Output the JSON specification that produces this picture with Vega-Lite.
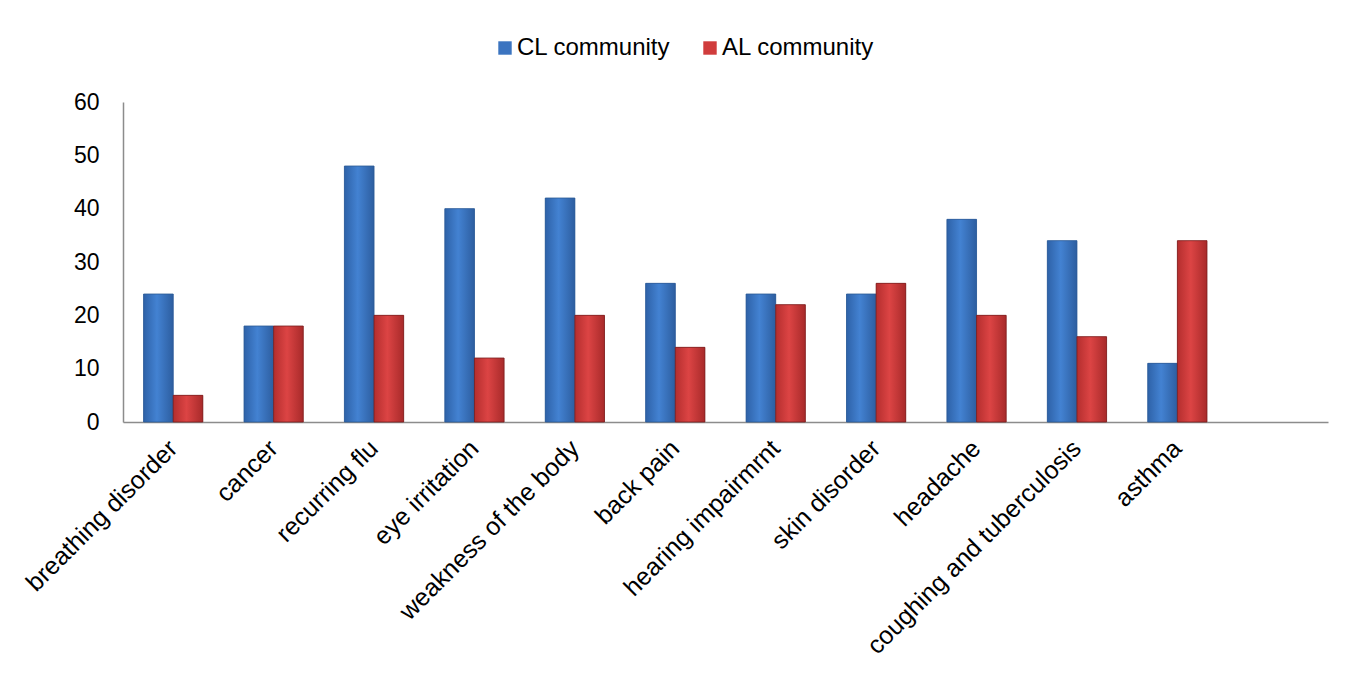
{
  "$schema": "https://vega.github.io/schema/vega-lite/v6.json",
  "width": 1205,
  "height": 320,
  "autosize": {"type": "none"},
  "padding": {"left": 123, "top": 102, "right": 23, "bottom": 251},
  "background": "white",
  "config": {
    "view": {"stroke": null},
    "font": "Liberation Sans",
    "axis": {"labelFont": "Liberation Sans", "labelColor": "#000000", "labelFontSize": 23, "labelLimit": 0, "domainColor": "#8c8c8c", "domainWidth": 1.5, "ticks": false, "grid": false, "title": null}
  },
  "data": {
    "values": [
      {"disease": "breathing disorder", "series": "CL community", "value": 24},
      {"disease": "breathing disorder", "series": "AL community", "value": 5},
      {"disease": "cancer", "series": "CL community", "value": 18},
      {"disease": "cancer", "series": "AL community", "value": 18},
      {"disease": "recurring flu", "series": "CL community", "value": 48},
      {"disease": "recurring flu", "series": "AL community", "value": 20},
      {"disease": "eye irritation", "series": "CL community", "value": 40},
      {"disease": "eye irritation", "series": "AL community", "value": 12},
      {"disease": "weakness of the body", "series": "CL community", "value": 42},
      {"disease": "weakness of the body", "series": "AL community", "value": 20},
      {"disease": "back pain", "series": "CL community", "value": 26},
      {"disease": "back pain", "series": "AL community", "value": 14},
      {"disease": "hearing impairmrnt", "series": "CL community", "value": 24},
      {"disease": "hearing impairmrnt", "series": "AL community", "value": 22},
      {"disease": "skin disorder", "series": "CL community", "value": 24},
      {"disease": "skin disorder", "series": "AL community", "value": 26},
      {"disease": "headache", "series": "CL community", "value": 38},
      {"disease": "headache", "series": "AL community", "value": 20},
      {"disease": "coughing and tuberculosis", "series": "CL community", "value": 34},
      {"disease": "coughing and tuberculosis", "series": "AL community", "value": 16},
      {"disease": "asthma", "series": "CL community", "value": 11},
      {"disease": "asthma", "series": "AL community", "value": 34}
    ]
  },
  "encoding": {
    "x": {
      "field": "disease",
      "type": "nominal",
      "sort": null,
      "scale": {
        "domain": ["breathing disorder", "cancer", "recurring flu", "eye irritation", "weakness of the body", "back pain", "hearing impairmrnt", "skin disorder", "headache", "coughing and tuberculosis", "asthma", " "],
        "paddingInner": 0.41,
        "paddingOuter": 0.205
      },
      "axis": {"labelAngle": -45, "labelAlign": "right", "labelBaseline": "middle", "labelPadding": 22, "labelFontSize": 25}
    },
    "xOffset": {
      "field": "series",
      "type": "nominal",
      "scale": {"domain": ["CL community", "AL community"], "paddingInner": 0, "paddingOuter": 0}
    },
    "y": {
      "field": "value",
      "type": "quantitative",
      "scale": {"domain": [0, 60], "nice": false},
      "axis": {"values": [0, 10, 20, 30, 40, 50, 60], "labelPadding": 24}
    }
  },
  "layer": [
    {
      "mark": {"type": "bar"},
      "encoding": {
        "color": {
          "field": "series",
          "type": "nominal",
          "scale": {"domain": ["CL community", "AL community"], "range": ["#3b74c0", "#d03c3c"]},
          "legend": {
            "orient": "none",
            "legendX": 370,
            "legendY": -66,
            "direction": "horizontal",
            "title": null,
            "symbolType": "square",
            "symbolSize": 180,
            "symbolStrokeWidth": 0,
            "labelFontSize": 24,
            "labelFont": "Liberation Sans",
            "labelColor": "#000000",
            "labelOffset": 0,
            "labelLimit": 0,
            "columnPadding": 27
          }
        }
      }
    },
    {
      "transform": [{"filter": "datum.series === 'CL community'"}],
      "mark": {
        "type": "bar",
        "stroke": "#2c5a96",
        "strokeWidth": 0.8,
        "fill": {"gradient": "linear", "x1": 0, "y1": 0, "x2": 1, "y2": 0, "stops": [
          {"offset": 0, "color": "#2e62a8"},
          {"offset": 0.45, "color": "#4382d2"},
          {"offset": 1, "color": "#2d5ea0"}
        ]}
      }
    },
    {
      "transform": [{"filter": "datum.series === 'AL community'"}],
      "mark": {
        "type": "bar",
        "stroke": "#7a1e1e",
        "strokeWidth": 0.8,
        "fill": {"gradient": "linear", "x1": 0, "y1": 0, "x2": 1, "y2": 0, "stops": [
          {"offset": 0, "color": "#b42e2e"},
          {"offset": 0.45, "color": "#dc4444"},
          {"offset": 1, "color": "#a82a2a"}
        ]}
      }
    }
  ]
}
